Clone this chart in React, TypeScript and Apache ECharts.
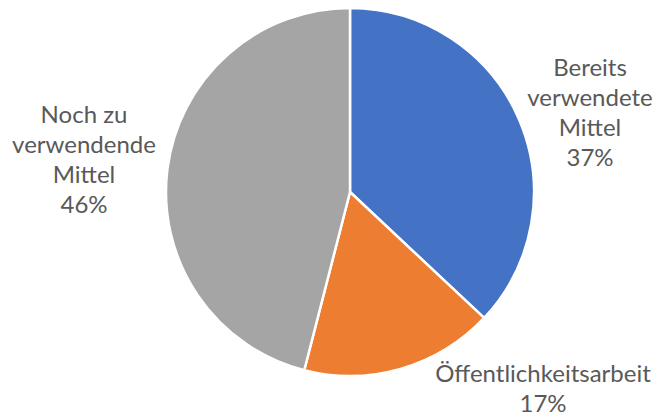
import React, { useEffect, useRef } from "react";
import * as echarts from "echarts";

const categories = ["Bereits\nverwendete\nMittel", "Öffentlichkeitsarbeit", "Noch zu\nverwendende\nMittel"];
const shares = [37, 17, 46];
const colors = ["#4472C4", "#ED7D31", "#A5A5A5"];

// label anchor positions (layout only)
const labelPos: [number, number][] = [
  [590, 111],
  [543, 387],
  [84, 158],
];

export default function App() {
  const ref = useRef<HTMLDivElement>(null);
  useEffect(() => {
    if (!ref.current) return;
    const chart = echarts.init(ref.current, undefined, { renderer: "svg" });
    chart.setOption({
      animation: false,
      backgroundColor: "#ffffff",
      series: [
        {
          type: "pie",
          center: [350, 192],
          radius: 184,
          startAngle: 90,
          clockwise: true,
          silent: true,
          data: categories.map((name, i) => ({
            name,
            value: shares[i],
            itemStyle: { color: colors[i] },
          })),
          itemStyle: { borderColor: "#ffffff", borderWidth: 2.5 },
          label: {
            show: true,
            position: "outside",
            formatter: "{b}\n{c}%",
            color: "#595959",
            fontFamily: "Lato",
            fontSize: 24,
            lineHeight: 30,
            align: "center",
            overflow: "none",
          },
          labelLine: { show: false },
          labelLayout: (params: any) => {
            const p = labelPos[params.dataIndex];
            return { x: p[0], y: p[1], align: "center", verticalAlign: "middle" };
          },
        },
      ],
    });
    return () => chart.dispose();
  }, []);
  return (
    <div
      ref={ref}
      style={{ position: "absolute", left: 0, top: 0, width: 654, height: 416 }}
    />
  );
}
